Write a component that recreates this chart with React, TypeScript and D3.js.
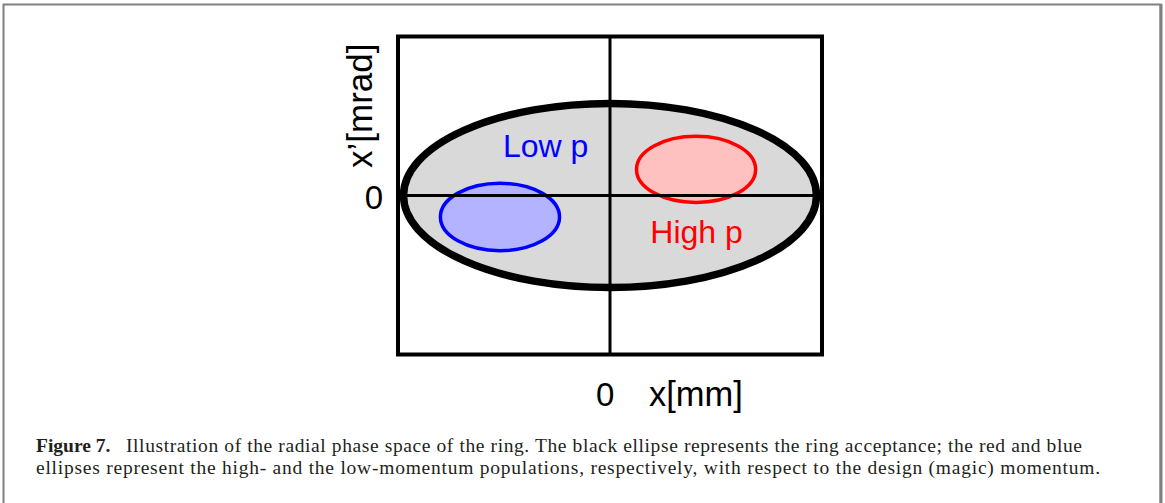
import React from "react";
import * as d3 from "d3";

// Normalized phase-space coordinates (x in units of half-aperture, x' in units of half-range)
const xDomain = [-1, 1];
const yDomain = [-1, 1];

// ellipses: name, cx, cy, rx, ry
const ellipseNames = ["acceptance", "high", "low"];
const ellipseCx = [0, 0.406, -0.519];
const ellipseCy = [0, 0.164, -0.135];
const ellipseRx = [0.974, 0.281, 0.281];
const ellipseRy = [0.579, 0.208, 0.212];

const labelTexts = ["Low p", "High p"];
const labelX = [-0.505, 0.19];
const labelY = [0.245, -0.30];

const xTickLabel = "0";
const yTickLabel = "0";
const xAxisTitle = "x[mm]";
const yAxisTitle = "x\u2019[mrad]";

const captionBold = "Figure 7.";
const captionLine1 =
  "Illustration of the radial phase space of the ring. The black ellipse represents the ring acceptance; the red and blue";
const captionLine2 =
  "ellipses represent the high- and the low-momentum populations, respectively, with respect to the design (magic) momentum.";

export default function App() {
  const W = 1165;
  const H = 503;
  const left = 398,
    right = 822,
    top = 36.5,
    bottom = 354.5;
  const x = d3.scaleLinear().domain(xDomain).range([left, right]);
  const y = d3.scaleLinear().domain(yDomain).range([bottom, top]);
  const sx = (v: number) => Math.abs(x(v) - x(0));
  const sy = (v: number) => Math.abs(y(v) - y(0));

  const styles = [
    { fill: "#d9d9d9", stroke: "#000", sw: 7.5 },
    { fill: "#ffc0c0", stroke: "#ff0000", sw: 3.5 },
    { fill: "#b3b3ff", stroke: "#0000ff", sw: 3.5 },
  ];
  const labelColors = ["#0000ff", "#ff0000"];
  const sans = "'Liberation Sans', Arial, sans-serif";
  const serif = "'Liberation Serif', 'Times New Roman', serif";

  return (
    <svg
      width={W}
      height={H}
      style={{ position: "absolute", left: 0, top: 0, background: "#fff" }}
    >
      <rect x={0} y={0} width={W} height={H} fill="#fff" />
      {/* outer frame */}
      <rect x={3.5} y={4.5} width={1157} height={520} fill="none" stroke="#808080" strokeWidth={2} />
      <line x1={1161} x2={1161} y1={4} y2={H} stroke="#808080" strokeWidth={3} />

      {ellipseNames.map((n, i) => (
        <ellipse
          key={n}
          cx={x(ellipseCx[i])}
          cy={y(ellipseCy[i])}
          rx={sx(ellipseRx[i])}
          ry={sy(ellipseRy[i])}
          fill={styles[i].fill}
          stroke={styles[i].stroke}
          strokeWidth={styles[i].sw}
        />
      ))}

      {/* axes through origin */}
      <line x1={x(0)} x2={x(0)} y1={top} y2={bottom} stroke="#000" strokeWidth={3} />
      <line x1={left} x2={right} y1={y(0)} y2={y(0)} stroke="#000" strokeWidth={3} />

      {/* frame box */}
      <rect
        x={left}
        y={top}
        width={right - left}
        height={bottom - top}
        fill="none"
        stroke="#000"
        strokeWidth={4}
      />

      {labelTexts.map((t, i) => (
        <text
          key={t}
          x={x(labelX[i])}
          y={y(labelY[i])}
          fill={labelColors[i]}
          fontFamily={sans}
          fontSize={32}
        >
          {t}
        </text>
      ))}

      {/* tick labels */}
      <text x={383} y={209} textAnchor="end" fontFamily={sans} fontSize={33} fill="#000">
        {yTickLabel}
      </text>
      <text x={x(0) - 14} y={406} fontFamily={sans} fontSize={33} fill="#000">
        {xTickLabel}
      </text>
      <text x={649} y={406} fontFamily={sans} fontSize={34.5} fill="#000">
        {xAxisTitle}
      </text>
      <text
        transform={`translate(372,168) rotate(-90)`}
        fontFamily={sans}
        fontSize={35}
        fill="#000"
      >
        {yAxisTitle}
      </text>

      {/* caption */}
      <text x={36} y={452} fontFamily={serif} fontSize={19.5} fontWeight="bold" fill="#231f20">
        {captionBold}
      </text>
      <text
        x={126}
        y={452}
        fontFamily={serif}
        fontSize={19.5}
        fill="#231f20"
        textLength={956}
        lengthAdjust="spacing"
      >
        {captionLine1}
      </text>
      <text
        x={36}
        y={474}
        fontFamily={serif}
        fontSize={19.5}
        fill="#231f20"
        textLength={1064}
        lengthAdjust="spacing"
      >
        {captionLine2}
      </text>
    </svg>
  );
}
